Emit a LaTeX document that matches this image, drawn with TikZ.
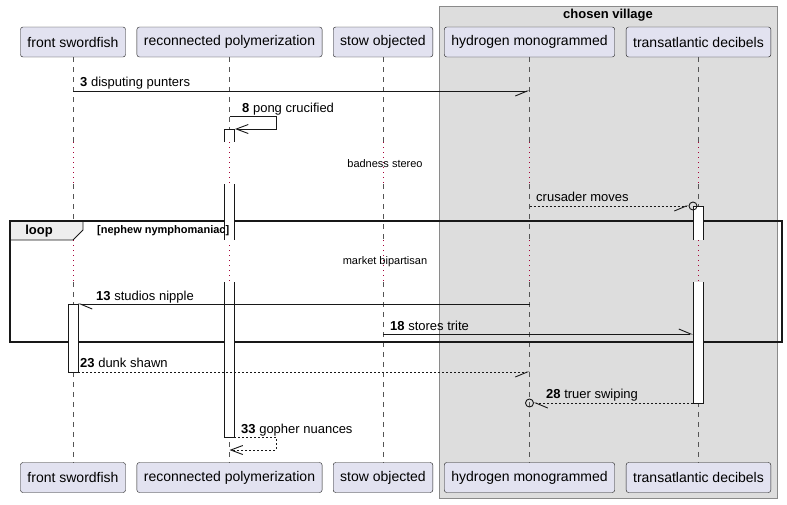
\documentclass[tikz,border=0pt]{standalone}
\usepackage{fontspec}
\setmainfont{Liberation Sans}
\usepackage{xcolor}
\usetikzlibrary{arrows.meta,positioning,calc}
\definecolor{partfill}{HTML}{E2E2F0}
\definecolor{partline}{HTML}{181818}
\definecolor{groupfill}{HTML}{DDDDDD}
\definecolor{groupline}{HTML}{8A8A8A}
\definecolor{tabfill}{HTML}{EEEEEE}
\definecolor{lifegray}{HTML}{555555}
\definecolor{delayred}{HTML}{A80036}
\tikzstyle{participant} = [rectangle, rounded corners=2.5pt, draw=partline, fill=partfill, minimum height=30pt, inner xsep=7pt, font=\fontsize{14}{16}\selectfont]
\tikzstyle{lifeline} = [draw=lifegray, line width=0.7pt, dash pattern=on 5pt off 5pt]
\tikzstyle{delayline} = [draw=delayred, line width=0.8pt, dash pattern=on 1pt off 4pt]
\tikzstyle{activation} = [draw=partline, fill=white, line width=0.9pt]
\tikzstyle{msg} = [draw=partline, line width=0.9pt]
\tikzstyle{reply} = [msg, dash pattern=on 2pt off 2pt]
\tikzstyle{msglabel} = [anchor=base west, inner sep=0pt, font=\fontsize{13}{15}\selectfont]
\tikzstyle{delaytext} = [inner sep=0pt, font=\fontsize{11}{13}\selectfont]
\tikzset{
  halfL/.tip={Straight Barb[harpoon,length=12pt,width=10pt]},
  halfR/.tip={Straight Barb[harpoon,swap,length=12pt,width=10pt]},
  openhead/.tip={Straight Barb[length=12pt,width=9pt]}
}

\begin{document}
\begin{tikzpicture}[x=1pt,y=-1pt]
    \useasboundingbox (0,0) rectangle (787,504);

    % box around the last two participants
    \draw[draw=groupline, fill=groupfill, line width=0.9pt] (439,6) rectangle (777,498);
    \node[font=\bfseries\fontsize{13}{15}\selectfont] (village) at (608,15) {chosen village};

    \node[participant] (fsT) at (73,42) {front swordfish};
    \node[participant] (rpT) at (229.5,42) {reconnected polymerization};
    \node[participant] (soT) at (383,42) {stow objected};
    \node[participant] (hmT) at (529.5,42) {hydrogen monogrammed};
    \node[participant] (tdT) at (698.5,42) {transatlantic decibels};

    \node[participant] (fsB) at (73,477.5) {front swordfish};
    \node[participant] (rpB) at (229.5,477.5) {reconnected polymerization};
    \node[participant] (soB) at (383,477.5) {stow objected};
    \node[participant] (hmB) at (529.5,477.5) {hydrogen monogrammed};
    \node[participant] (tdB) at (698.5,477.5) {transatlantic decibels};

    \foreach \p in {fs,rp,so,hm,td} {
        \draw[lifeline] (\p T.south) -- (\p T |- 0,142) (\p T |- 0,184) -- (\p T |- 0,240)
            (\p T |- 0,282) -- (\p B.north);
        \draw[delayline] (\p T |- 0,142) -- (\p T |- 0,184) (\p T |- 0,240) -- (\p T |- 0,282);
    }

    \node[delaytext] (delay1) at (385,164) {badness stereo};
    \node[delaytext] (delay2) at (385,262) {market bipartisan};

    % loop frame
    \draw[draw=partline, fill=tabfill, line width=0.9pt] (10,221) -- (83,221) -- (83,230) -- (73,240) -- (10,240) -- cycle;
    \draw[draw=partline, line width=1.5pt] (10,221) rectangle (782,342);
    \node[font=\bfseries\fontsize{13}{15}\selectfont] (loopTag) at (39,231) {loop};

    % activations
    \draw[activation] (224,142) -- (224,129) -- (234,129) -- (234,142);
    \draw[draw=white, fill=white] (224.5,184) rectangle (233.5,240);
    \draw[activation] (224,184) -- (224,240) (234,184) -- (234,240);
    \draw[activation] (224,282) -- (224,437) -- (234,437) -- (234,282);
    \draw[activation] (693,240) -- (693,206) -- (703,206) -- (703,240);
    \draw[activation] (693,282) -- (693,403) -- (703,403) -- (703,282);
    \draw[activation] (68,304) rectangle (78,372);

    \node[anchor=west, inner sep=0pt, font=\bfseries\fontsize{11}{13}\selectfont] (loopGuard) at (97,231) {[nephew nymphomaniac]};

    % messages
    \draw[msg,-halfR] (fsT |- 0,91) -- (hmT |- 0,91);
    \node[msglabel] (m3) at (80,86) {\textbf{3} disputing punters};

    \draw[msg,-openhead] (rpT |- 0,116) -- (276,116) -- (276,129) -- ($(rpT |- 0,129)+(5.5,0)$);
    \node[msglabel] (m8) at (242,112) {\textbf{8} pong crucified};

    \draw[reply,-halfR] (hmT |- 0,206) -- ($(tdT |- 0,206)+(-10,0)$);
    \draw[msg] ($(tdT |- 0,206)+(-5.5,0)$) circle (4);
    \node[msglabel] (mc) at (536,201) {crusader moves};

    \draw[msg,-halfL] (hmT |- 0,304) -- ($(fsT |- 0,304)+(5,0)$);
    \node[msglabel] (m13) at (96,300) {\textbf{13} studios nipple};

    \draw[msg,-halfL] (soT |- 0,334) -- ($(tdT |- 0,334)+(-5.5,0)$);
    \node[msglabel] (m18) at (390,330) {\textbf{18} stores trite};

    \draw[reply,-halfR] ($(fsT |- 0,372)+(5,0)$) -- (hmT |- 0,372);
    \node[msglabel] (m23) at (80,367) {\textbf{23} dunk shawn};

    \draw[reply,-halfL] ($(tdT |- 0,403)+(-5.5,0)$) -- ($(hmT |- 0,403)+(4,0)$);
    \draw[msg] (hmT |- 0,403) circle (4);
    \node[msglabel] (m28) at (546,398) {\textbf{28} truer swiping};

    \draw[reply,-openhead] ($(rpT |- 0,437)+(4.5,0)$) -- (276,437) -- (276,450) -- (rpT |- 0,450);
    \node[msglabel] (m33) at (241,433) {\textbf{33} gopher nuances};
\end{tikzpicture}
\end{document}
